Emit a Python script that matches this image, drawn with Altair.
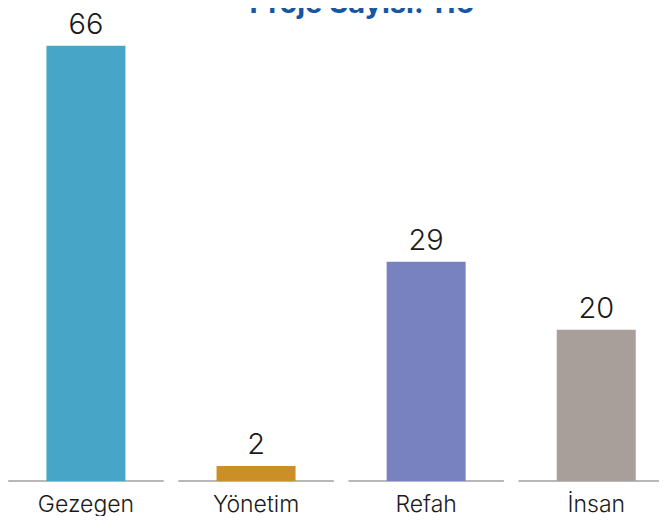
import altair as alt
import pandas as pd

categories = ["Gezegen", "Yönetim", "Refah", "İnsan"]
values = [66, 2, 29, 20]
colors = ["#47a6c8", "#cc8f27", "#7882c0", "#a89f9b"]
title_text = ["Proje Sayısı: 116"]

df = pd.DataFrame({"kategori": categories, "deger": values, "renk": colors})
df["taban"] = 0
title_df = pd.DataFrame({"baslik": title_text})

FONT = "Inter"

x_enc = alt.X(
    "kategori:N",
    sort=categories,
    scale=alt.Scale(paddingInner=0, paddingOuter=0),
    axis=alt.Axis(
        title=None, domain=False, ticks=False, grid=False, labelPadding=30,
        labelBaseline="alphabetic", labelFontSize=23, labelFont=FONT,
        labelFontWeight=300, labelColor="#1a1a1a", labelAngle=0,
    ),
)
y_scale = alt.Scale(domain=[0, 57.6], clamp=True, nice=False, zero=True)
y_enc = alt.Y("deger:Q", scale=y_scale, axis=None)

base = alt.Chart(df)

bars = base.mark_bar(size=79).encode(
    x=x_enc, y=y_enc, color=alt.Color("renk:N", scale=None)
)

baseline = base.mark_tick(size=155.5, thickness=1.5, color="#777777").encode(
    x=x_enc, y=alt.Y("taban:Q", scale=y_scale, axis=None)
)

labels = base.mark_text(
    dy=-12, baseline="alphabetic", fontSize=29, font=FONT, fontWeight=300,
    color="#1a1a1a",
).encode(x=x_enc, y=y_enc, text="deger:Q")

title_mark = alt.Chart(title_df).mark_text(
    baseline="alphabetic", align="center", fontSize=29, font=FONT,
    fontWeight="bold", color="#1656a3",
).encode(text="baslik:N", x=alt.value(361), y=alt.value(-32.7))

chart = (
    alt.layer(baseline, bars, labels, title_mark)
    .properties(
        width=680.4,
        height=435.3,
        autosize=alt.AutoSizeParams(type="none"),
        padding={"left": -7.1, "top": 37.7, "right": -22.3, "bottom": 35},
        view=alt.ViewBackground(strokeWidth=0, strokeOpacity=0),
    )
    .configure_view(stroke="transparent", strokeWidth=0, strokeOpacity=0)
    .configure(background="white")
)

chart.save("out.html", embed_options={"renderer": "svg", "actions": False})
